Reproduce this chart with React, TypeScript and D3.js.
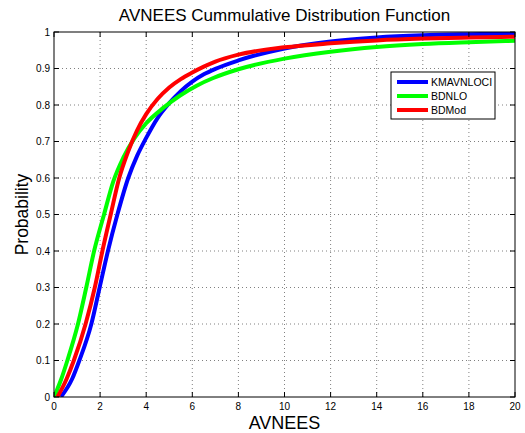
import React from 'react';
import * as d3 from 'd3';

// Axis ticks
const xTickValues = [0, 2, 4, 6, 8, 10, 12, 14, 16, 18, 20];
const yTickValues = [0, 0.1, 0.2, 0.3, 0.4, 0.5, 0.6, 0.7, 0.8, 0.9, 1];
const yTickLabels = ['0', '0.1', '0.2', '0.3', '0.4', '0.5', '0.6', '0.7', '0.8', '0.9', '1'];

// Series names and colours (plot order)
const seriesNames = ['KMAVNLOCI', 'BDNLO', 'BDMod'];
const seriesColors = ['#0000ff', '#00ff00', '#ff0000'];

// KMAVNLOCI CDF samples
const kmavnlociX = [0.3, 0.79, 1.1, 1.62, 1.98, 2.34, 2.75, 3.22, 3.6, 4.0, 4.5, 5.0, 5.5, 6.0, 6.5, 7.0, 8, 10, 12, 14, 16, 18, 20];
const kmavnlociY = [0, 0.05, 0.1, 0.2, 0.3, 0.4, 0.5, 0.6, 0.66, 0.71, 0.765, 0.805, 0.838, 0.864, 0.884, 0.899, 0.922, 0.955, 0.974, 0.985, 0.991, 0.994, 0.996];

// BDNLO CDF samples
const bdnloX = [0, 0.32, 0.58, 1.04, 1.4, 1.74, 2.17, 2.57, 3.0, 3.5, 4.0, 4.74, 5.47, 6.19, 6.91, 8, 10, 12, 14, 16, 18, 20];
const bdnloY = [0, 0.05, 0.1, 0.2, 0.3, 0.4, 0.5, 0.59, 0.655, 0.71, 0.75, 0.792, 0.826, 0.853, 0.874, 0.898, 0.927, 0.946, 0.959, 0.967, 0.972, 0.976];

// BDMod CDF samples
const bdmodX = [0.15, 0.55, 0.86, 1.37, 1.77, 2.1, 2.46, 2.83, 3.2, 3.6, 4.0, 4.5, 5.0, 5.5, 6.0, 6.5, 7.0, 8, 10, 12, 14, 16, 18, 20];
const bdmodY = [0, 0.05, 0.1, 0.2, 0.3, 0.4, 0.5, 0.6, 0.67, 0.73, 0.775, 0.817, 0.848, 0.871, 0.889, 0.905, 0.919, 0.938, 0.958, 0.969, 0.977, 0.982, 0.985, 0.987];

const seriesX = [kmavnlociX, bdnloX, bdmodX];
const seriesY = [kmavnlociY, bdnloY, bdmodY];

const W = 525;
const H = 433;
const margin = { left: 54, right: 10, top: 32, bottom: 36 };
const FONT = '"Liberation Sans", Arial, Helvetica, sans-serif';

export default function App() {
  const x = d3.scaleLinear().domain([0, 20]).range([margin.left, W - margin.right]);
  const y = d3.scaleLinear().domain([0, 1]).range([H - margin.bottom, margin.top]);
  const [x0, x1] = x.range();
  const [y0, y1] = y.range();

  const line = d3
    .line<[number, number]>()
    .x((d) => x(d[0]))
    .y((d) => y(d[1]))
    .curve(d3.curveMonotoneX);

  const tickLen = 5;
  const gridColor = '#808080';

  const legend = { x: 391, y: 72, w: 104, h: 47 };
  const legendRows = [82, 96, 110];

  return (
    <svg
      width={W}
      height={H}
      style={{ position: 'absolute', left: 0, top: 0, display: 'block', background: '#fff' }}
      fontFamily={FONT}
    >
      <defs>
        <clipPath id="plot-clip">
          <rect x={x0} y={y1} width={x1 - x0} height={y0 - y1} />
        </clipPath>
      </defs>

      {/* grid */}
      {xTickValues.slice(1, -1).map((v) => (
        <line
          key={'gx' + v}
          x1={x(v)}
          x2={x(v)}
          y1={y0}
          y2={y1}
          stroke={gridColor}
          strokeWidth={1}
          strokeDasharray="1 3"
        />
      ))}
      {yTickValues.slice(1, -1).map((v) => (
        <line
          key={'gy' + v}
          x1={x0}
          x2={x1}
          y1={y(v)}
          y2={y(v)}
          stroke={gridColor}
          strokeWidth={1}
          strokeDasharray="1 3"
        />
      ))}

      {/* curves */}
      <g clipPath="url(#plot-clip)">
        {seriesNames.map((name, i) => {
          const pts = seriesX[i].map((v, j) => [v, seriesY[i][j]] as [number, number]);
          return (
            <path
              key={name}
              d={line(pts) || ''}
              fill="none"
              stroke={seriesColors[i]}
              strokeWidth={4}
              strokeLinejoin="round"
            />
          );
        })}
      </g>

      {/* ticks */}
      {xTickValues.map((v) => (
        <g key={'tx' + v}>
          <line x1={x(v)} x2={x(v)} y1={y0} y2={y0 - tickLen} stroke="#000" />
          <line x1={x(v)} x2={x(v)} y1={y1} y2={y1 + tickLen} stroke="#000" />
          <text x={x(v)} y={y0 + 13} fontSize={10} textAnchor="middle" fill="#000">
            {v}
          </text>
        </g>
      ))}
      {yTickValues.map((v, i) => (
        <g key={'ty' + v}>
          <line x1={x0} x2={x0 + tickLen} y1={y(v)} y2={y(v)} stroke="#000" />
          <line x1={x1} x2={x1 - tickLen} y1={y(v)} y2={y(v)} stroke="#000" />
          <text x={x0 - 4} y={y(v) + 3.5} fontSize={10} textAnchor="end" fill="#000">
            {yTickLabels[i]}
          </text>
        </g>
      ))}

      {/* frame */}
      <rect x={x0} y={y1} width={x1 - x0} height={y0 - y1} fill="none" stroke="#000" strokeWidth={1} />

      {/* legend */}
      <rect x={legend.x} y={legend.y} width={legend.w} height={legend.h} fill="#fff" stroke="#000" strokeWidth={1} />
      {seriesNames.map((name, i) => (
        <g key={'lg' + name}>
          <line
            x1={legend.x + 6}
            x2={legend.x + 37}
            y1={legendRows[i]}
            y2={legendRows[i]}
            stroke={seriesColors[i]}
            strokeWidth={4}
          />
          <text x={legend.x + 40} y={legendRows[i] + 3.8} fontSize={10.5} fill="#000">
            {name}
          </text>
        </g>
      ))}

      {/* titles */}
      <text x={(x0 + x1) / 2} y={21} fontSize={17} textAnchor="middle" fill="#000">
        AVNEES Cummulative Distribution Function
      </text>
      <text x={(x0 + x1) / 2} y={429} fontSize={18} textAnchor="middle" fill="#000">
        AVNEES
      </text>
      <text
        transform={`translate(28, ${(y0 + y1) / 2}) rotate(-90)`}
        fontSize={17.5}
        textAnchor="middle"
        fill="#000"
      >
        Probability
      </text>
    </svg>
  );
}
